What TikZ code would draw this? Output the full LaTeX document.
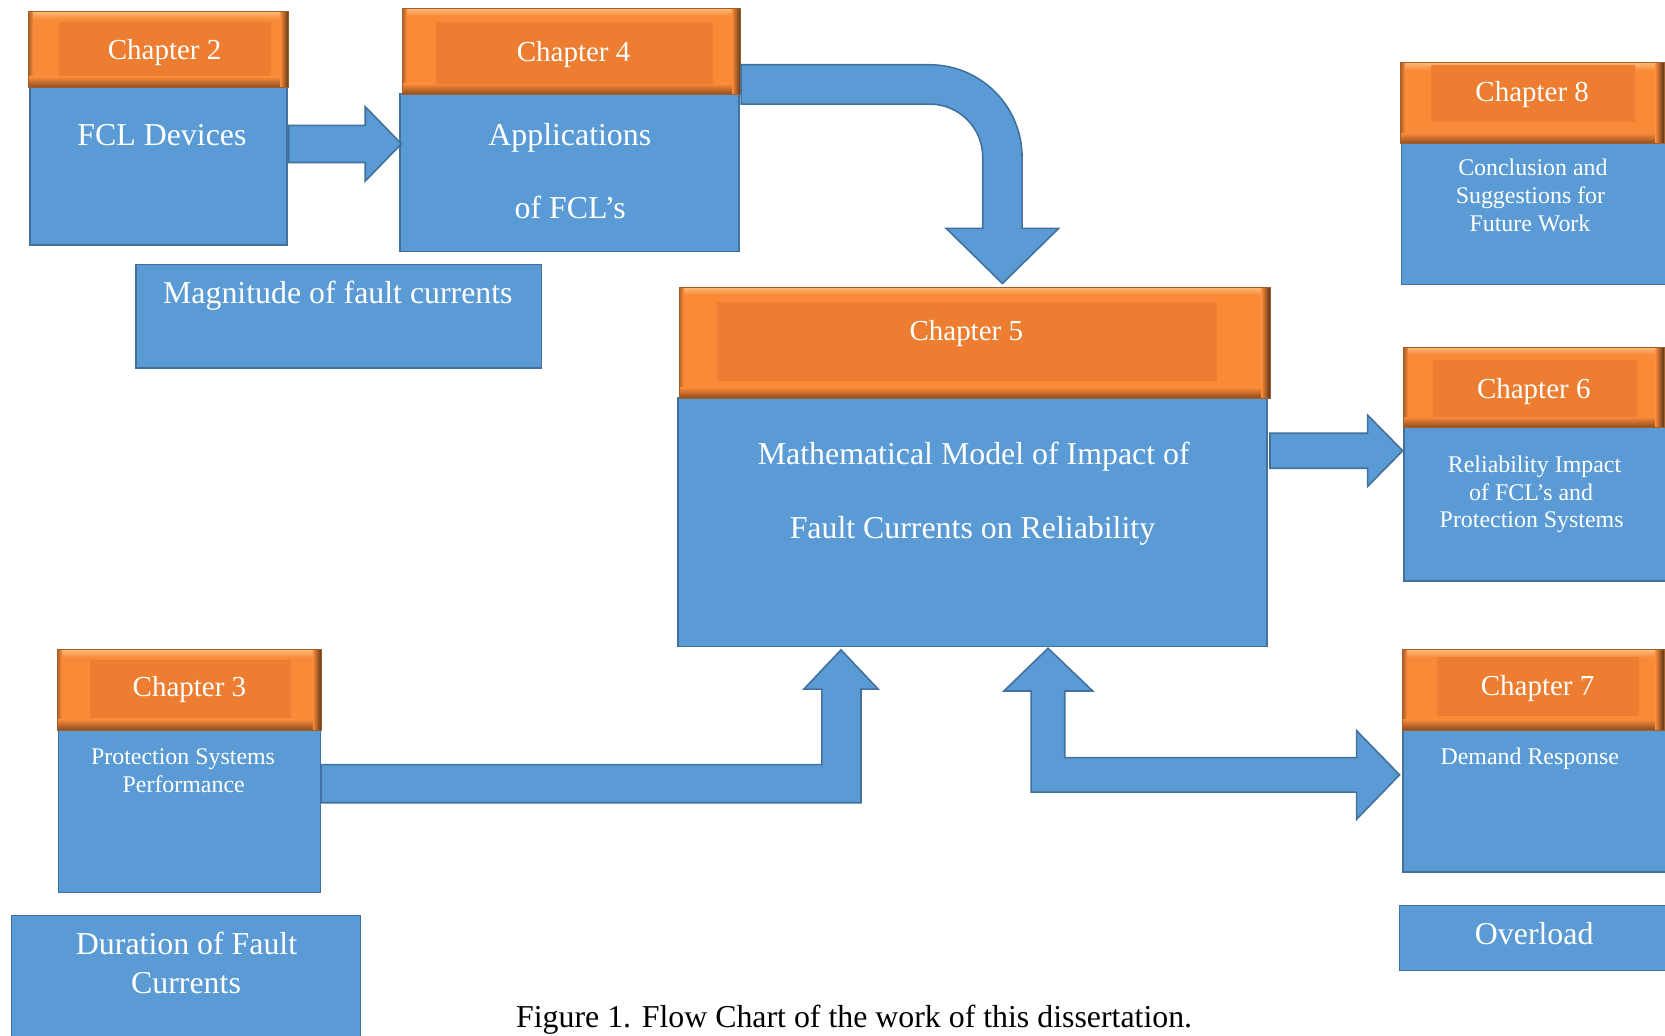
\documentclass[tikz,border=0pt]{standalone}
\usepackage{fontspec}
\setmainfont{Liberation Serif}
\definecolor{blu}{HTML}{5B9BD5}
\definecolor{bdr}{HTML}{41719C}
\definecolor{hbev}{HTML}{F98A38}
\definecolor{hin}{HTML}{ED7D31}
\definecolor{htop}{HTML}{FBB36E}
\definecolor{hdark}{HTML}{8B4A1F}
\definecolor{hdarkr}{HTML}{5A3418}
\definecolor{hleft}{HTML}{B0612A}
\definecolor{hline}{HTML}{A0602E}
% bevelled chapter header: outer x1 y1 x2 y2, inner x1 y1 x2 y2
\newcommand\chaphead[8]{%
  \fill[hbev] (#1,#2) rectangle (#3,#4);
  \shade[top color=htop, bottom color=hbev] (#1,#2+1) rectangle (#3,#2+7);
  \shade[left color=hleft, right color=hbev] (#1,#2) rectangle (#1+4,#4);
  \shade[top color=hbev, bottom color=hdark] (#1,#4-10) rectangle (#3,#4);
  \shade[left color=hbev, right color=hdarkr] (#3-8,#2) rectangle (#3,#4);
  \fill[hin] (#5,#6) rectangle (#7,#8);
  \draw[hline, line width=0.8pt] (#1,#2) rectangle (#3,#4);
}
\tikzset{
  body/.style={draw=bdr, fill=blu, line width=1.5pt, inner sep=0pt, outer sep=0pt, anchor=north west},
  blockarrow/.style={draw=bdr, fill=blu, line width=1.5pt, line join=miter},
  lab/.style={text=white, font=\fontsize{27.3}{32}\selectfont, anchor=base, inner sep=0pt},
  big/.style={text=white, font=\fontsize{30}{36}\selectfont, anchor=base, inner sep=0pt},
  small/.style={text=white, font=\fontsize{22.5}{27}\selectfont, anchor=base, inner sep=0pt},
}
\begin{document}
\begin{tikzpicture}[x=1pt,y=-1pt]
\useasboundingbox (0,0) rectangle (1568,975);
\fill[white] (0,0) rectangle (1568,975);

% ---- blue bodies
\node[body, minimum width=242.5pt, minimum height=148.5pt] (ch2b) at (28,82) {};
\node[body, minimum width=319.4pt, minimum height=149pt] (ch4b) at (376.6,88) {};
\node[body, minimum width=382.1pt, minimum height=97.9pt] (mag) at (127.8,248.9) {};
\node[body, minimum width=554.3pt, minimum height=234pt] (ch5b) at (638.7,375) {};
\node[body, minimum width=255.3pt, minimum height=132.9pt] (ch8b) at (1319.7,135) {};
\node[body, minimum width=253pt, minimum height=145pt] (ch6b) at (1322,402) {};
\node[body, minimum width=254pt, minimum height=134pt] (ch7b) at (1321,687) {};
\node[body, minimum width=247pt, minimum height=153.6pt] (ch3b) at (55,687) {};
\node[body, minimum width=328.7pt, minimum height=132.7pt] (dur) at (10.8,862.3) {};
\node[body, minimum width=257pt, minimum height=61.4pt] (ovl) at (1318,852.6) {};

% ---- orange headers
\chaphead{27}{11}{272}{82.5}{55.6}{21}{255}{72}
\chaphead{379}{8}{697.5}{89}{410.7}{21}{671}{79}
\chaphead{639.5}{270.6}{1196}{375}{675.5}{284}{1146}{358.5}
\chaphead{1319}{59}{1567}{135.4}{1347.6}{61}{1539.7}{115.3}
\chaphead{1322}{327}{1567}{402.7}{1349.8}{339.3}{1541.3}{392.9}
\chaphead{1321}{612}{1567}{687.5}{1352.8}{618.4}{1543.5}{674.3}
\chaphead{54}{612}{302.7}{687.5}{84.9}{621.5}{274}{676.5}

% ---- block arrows
\draw[blockarrow] (272,118) -- (344,118) -- (344,100.5) -- (378,135.5) -- (344,170.5) -- (344,153) -- (272,153) -- cycle;
\draw[blockarrow] (698,61) -- (875.5,61) .. controls (923.5,61) and (962.5,100) .. (962.5,148)
  -- (962.5,215) -- (997,215) -- (944,267) -- (891,215) -- (925.5,215) -- (925.5,148)
  .. controls (925.5,120.4) and (903.1,98) .. (875.5,98) -- (698,98) -- cycle;
\draw[blockarrow] (1196,408) -- (1288,408) -- (1288,391) -- (1321,424.5) -- (1288,458) -- (1288,441) -- (1196,441) -- cycle;
\draw[blockarrow] (302.7,720) -- (774,720) -- (774,649) -- (757,649) -- (792,612) -- (827,649) -- (810.8,649) -- (810.8,756) -- (302.7,756) -- cycle;
\draw[blockarrow] (987,610.5) -- (1029,650.7) -- (1002.7,650.7) -- (1002.7,713.5) -- (1277.5,713.5) -- (1277.5,688)
  -- (1318,729.7) -- (1277.5,771.6) -- (1277.5,746) -- (971,746) -- (971,650.7) -- (945.5,650.7) -- cycle;

% ---- texts
\node[lab] (l2) at (155,56.5) {Chapter 2};
\node[big] (t2) at (152.5,137.2) {FCL Devices};
\node[lab] (l4) at (540.2,58.1) {Chapter 4};
\node[big] (t4a) at (536.6,137.3) {Applications};
\node[big] (t4b) at (537,205.6) {of FCL’s};
\node[big] (tmag) at (318.2,286) {Magnitude of fault currents};
\node[lab] (l5) at (910,320.8) {Chapter 5};
\node[big] (t5a) at (917,437.9) {Mathematical Model of Impact of};
\node[big] (t5b) at (915.8,507) {Fault Currents on Reliability};
\node[lab] (l8) at (1442.9,95.8) {Chapter 8};
\node[small] (t8a) at (1443.6,165.6) {Conclusion and};
\node[small] (t8b) at (1441.3,191.6) {Suggestions for};
\node[small] (t8c) at (1440.8,217.6) {Future Work};
\node[lab] (l6) at (1444.4,375.1) {Chapter 6};
\node[small] (t6a) at (1445.1,444.9) {Reliability Impact};
\node[small] (t6b) at (1441.9,470.9) {of FCL’s and};
\node[small] (t6c) at (1442.4,496.8) {Protection Systems};
\node[lab] (l7) at (1448,655.4) {Chapter 7};
\node[small] (t7) at (1440.7,719.5) {Demand Response};
\node[big] (tovl) at (1444.8,889.9) {Overload};
\node[lab] (l3) at (178.4,656) {Chapter 3};
\node[small] (t3a) at (172.4,720.4) {Protection Systems};
\node[small] (t3b) at (173,746.5) {Performance};
\node[big] (td1) at (175.7,899.3) {Duration of Fault};
\node[big] (td2) at (175.2,935.4) {Currents};
\node[anchor=base, inner sep=0pt, font=\fontsize{30}{36}\selectfont] (cap) at (804.4,967.5) {Figure 1. Flow Chart of the work of this dissertation.};
\end{tikzpicture}
\end{document}
